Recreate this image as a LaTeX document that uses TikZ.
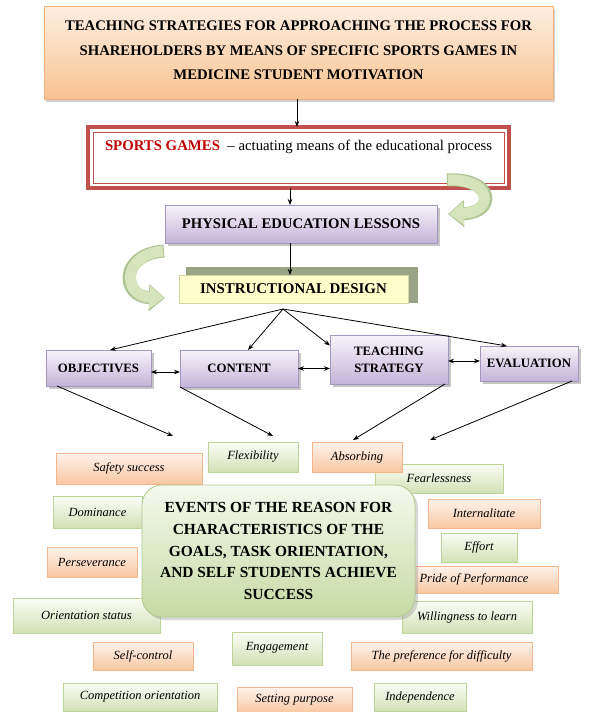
\documentclass[tikz,border=0pt]{standalone}
\usepackage{fontspec}
\setmainfont{Liberation Serif}
\usetikzlibrary{arrows.meta,shadows}
\definecolor{oTop}{HTML}{FEF3EB}
\definecolor{oBot}{HTML}{F9C7A2}
\definecolor{oBorder}{HTML}{F4B68A}
\definecolor{gTop}{HTML}{FBFDF7}
\definecolor{gBot}{HTML}{D2E1B4}
\definecolor{gBorder}{HTML}{BDD498}
\definecolor{pTop}{HTML}{F7F4FA}
\definecolor{pBot}{HTML}{C4B4D8}
\definecolor{pBorder}{HTML}{A596BD}
\definecolor{tTop}{HTML}{FDEEE0}
\definecolor{tBot}{HTML}{F8C392}
\definecolor{tBorder}{HTML}{F3B07A}
\definecolor{sgRed}{HTML}{C0504D}
\definecolor{sgText}{HTML}{C00000}
\definecolor{idYellow}{HTML}{FFFFCC}
\definecolor{idBorder}{HTML}{D4D6A8}
\definecolor{idShadow}{HTML}{99A485}
\definecolor{cTop}{HTML}{F5F9EE}
\definecolor{cBot}{HTML}{C6DAA3}
\definecolor{cBorder}{HTML}{AFC88A}
\definecolor{cgFill}{HTML}{D6E4BC}
\definecolor{cgBorder}{HTML}{AFC493}
\begin{document}
\begin{tikzpicture}[x=1pt,y=-1pt,
  every node/.style={inner sep=0pt, outer sep=0pt},
  conn/.style={line width=0.8pt, -{Stealth[length=6pt,width=4.5pt]}},
  dconn/.style={line width=0.8pt, {Stealth[length=6pt,width=4.5pt]}-{Stealth[length=6pt,width=4.5pt]}},
  obox/.style={draw=oBorder, line width=0.8pt, top color=oTop, bottom color=oBot, font=\itshape\fontsize{12.5}{14}\selectfont},
  gbox/.style={draw=gBorder, line width=0.8pt, top color=gTop, bottom color=gBot, font=\itshape\fontsize{12.5}{14}\selectfont},
  pbox/.style={draw=pBorder, line width=0.6pt, top color=pTop, bottom color=pBot, align=center,
    drop shadow={shadow xshift=3pt, shadow yshift=-3pt, fill=black!50, opacity=0.45},
    font=\bfseries\fontsize{12.8}{17}\selectfont},
  titlebox/.style={draw=tBorder, line width=0.8pt, top color=tTop, bottom color=tBot, align=center,
    drop shadow={shadow xshift=2pt, shadow yshift=-3pt, fill=black!45, opacity=0.4},
    font=\bfseries\fontsize{14.7}{24.5}\selectfont},
  centerbox/.style={draw=cBorder, line width=0.8pt, top color=cTop, bottom color=cBot, rounded corners=20pt, align=center,
    drop shadow={shadow xshift=3pt, shadow yshift=-3pt, fill=black!45, opacity=0.35},
    font=\bfseries\fontsize{15.4}{21.7}\selectfont},
  curvedarrowborder/.style={cgBorder, line width=13pt, -{Triangle[length=16pt,width=26pt]}},
  curvedarrowfill/.style={cgFill, line width=11pt, -{Triangle[length=14.5pt,width=22.5pt]}}
]
\useasboundingbox (0,0) rectangle (589,712);

% title
\node[titlebox, minimum width=509pt, minimum height=93pt, text depth=4pt] (title) at (298.5,52.5)
  {TEACHING STRATEGIES FOR APPROACHING THE PROCESS FOR\\
   SHAREHOLDERS BY MEANS OF SPECIFIC SPORTS GAMES IN\\
   MEDICINE STUDENT MOTIVATION};

% sports games
\node[draw=sgRed, line width=4pt, fill=white, minimum width=421pt, minimum height=61pt] (sg) at (298.5,157.5) {};
\draw[sgRed, line width=0.8pt] ([shift={(5pt,-5pt)}]sg.north west) rectangle ([shift={(-5pt,5pt)}]sg.south east);
\node[anchor=west, font=\fontsize{14.8}{17}\selectfont] (sgt) at (105,147)
  {\textcolor{sgText}{\bfseries SPORTS GAMES}\ \ -- actuating means of the educational process};

% physical education
\node[pbox, minimum width=272pt, minimum height=38pt, font=\bfseries\fontsize{14.7}{16}\selectfont] (pe) at (301,224) {PHYSICAL EDUCATION LESSONS};

% instructional design
\node[fill=idShadow, minimum width=232pt, minimum height=36pt] (idback) at (302,285) {};
\node[fill=idYellow, draw=idBorder, line width=0.6pt, minimum width=229pt, minimum height=28pt, font=\bfseries\fontsize{14.9}{16}\selectfont] (id) at (293.5,289) {INSTRUCTIONAL DESIGN};

% curved arrows
\draw[curvedarrowborder] (447,180) .. controls (494,177) and (497,213) .. (448,214);
\draw[curvedarrowfill] (448,180) .. controls (492,178) and (495,212) .. (449,214);
\draw[curvedarrowborder] (164,251) .. controls (119,254) and (121,297) .. (165,298);
\draw[curvedarrowfill] (163,251) .. controls (121,255) and (123,296) .. (164,298);

% vertical arrows
\draw[conn] (title.south -| 297,0) -- (sg.north -| 297,0);
\draw[conn] (sg.south -| 290,0) -- (pe.north -| 290,0);
\draw[conn] (pe.south -| 290,0) -- (id.north -| 290,0);

% row boxes
\node[pbox, minimum width=105pt, minimum height=36pt] (obj) at (98.5,368) {OBJECTIVES};
\node[pbox, minimum width=118pt, minimum height=37pt] (cont) at (239,368.5) {CONTENT};
\node[pbox, minimum width=118pt, minimum height=49pt] (teach) at (389,359.5) {TEACHING\\STRATEGY};
\node[pbox, minimum width=98pt, minimum height=35pt] (eval) at (529,363.5) {EVALUATION};

\coordinate (hub) at (283,309);
\draw[conn] (hub) -- ([xshift=11.5pt]obj.north);
\draw[conn] (hub) -- ([xshift=9pt]cont.north);
\draw[conn] (hub) -- ([yshift=14pt]teach.west);
\draw[conn] (hub) -- ([xshift=-22pt]eval.north);

\draw[dconn] ([yshift=-4pt]obj.east) -- ([yshift=-4pt]obj.east -| cont.west);
\draw[dconn] (cont.east) -- (cont.east -| teach.west);
\draw[dconn] ([yshift=-1.5pt]teach.east) -- ([yshift=-1.5pt]teach.east -| eval.west);

\coordinate (t1) at (173,436);
\coordinate (t2) at (273,436);
\coordinate (t3) at (353,440);
\coordinate (t4) at (430,440);
\draw[conn] ([xshift=11pt]obj.south west) -- (t1);
\draw[conn] (cont.south west) -- (t2);
\draw[conn] ([xshift=-3pt]teach.south east) -- (t3);
\draw[conn] ([xshift=-6pt]eval.south east) -- (t4);

% small boxes
\node[gbox, minimum width=128pt, minimum height=29pt] (fear) at (439,478.5) {Fearlessness};
\node[obox, minimum width=146pt, minimum height=31pt] (safety) at (129,468.5) {Safety success};
\node[gbox, minimum width=90pt, minimum height=30pt] (flex) at (253,457) {Flexibility};
\node[obox, minimum width=90pt, minimum height=30pt] (absorb) at (357,457) {Absorbing};
\node[gbox, minimum width=89pt, minimum height=32pt] (dom) at (97.5,512) {Dominance};
\node[obox, minimum width=112pt, minimum height=29pt] (intern) at (484,513.5) {Internalitate};
\node[gbox, minimum width=76pt, minimum height=29pt] (effort) at (479,547.5) {Effort};
\node[obox, minimum width=90pt, minimum height=30pt] (pers) at (92,562) {Perseverance};
\node[obox, minimum width=168pt, minimum height=27pt] (pride) at (474,579.5) {Pride of Performance};
\node[gbox, minimum width=147pt, minimum height=35pt] (orient) at (86.5,615.5) {Orientation status};
\node[gbox, minimum width=130pt, minimum height=32pt] (will) at (467,617) {Willingness to learn};
\node[gbox, minimum width=90pt, minimum height=33pt, text height=10pt, text depth=6pt] (engage) at (277,648.5) {Engagement};
\node[obox, minimum width=100pt, minimum height=28pt] (self) at (143,656) {Self-control};
\node[obox, minimum width=181pt, minimum height=28pt] (pref) at (441.5,656) {The preference for difficulty};
\node[gbox, minimum width=154pt, minimum height=28pt] (comp) at (140,697) {Competition orientation};
\node[obox, minimum width=115pt, minimum height=25pt] (setp) at (294.5,700) {Setting purpose};
\node[gbox, minimum width=92pt, minimum height=28pt] (indep) at (420,697) {Independence};

% center box
\node[centerbox, minimum width=273pt, minimum height=132pt] (center) at (278.5,551)
  {EVENTS OF THE REASON FOR\\
   CHARACTERISTICS OF THE\\
   GOALS, TASK ORIENTATION,\\
   AND SELF STUDENTS ACHIEVE\\
   SUCCESS};
\end{tikzpicture}
\end{document}
